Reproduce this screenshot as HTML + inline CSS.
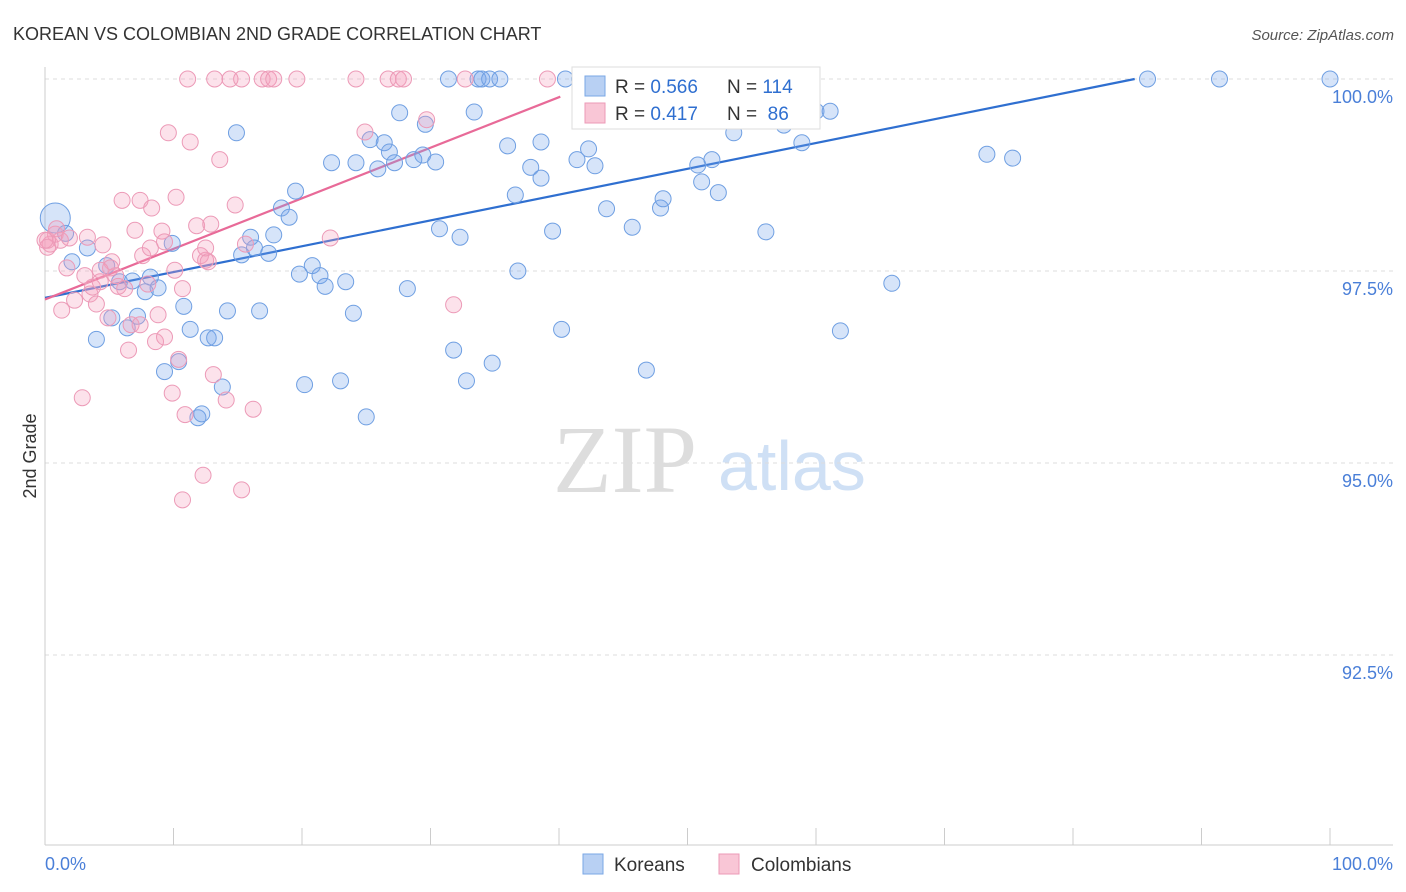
<!DOCTYPE html>
<html><head><meta charset="utf-8"><style>
body{margin:0;background:#fff;font-family:"Liberation Sans",sans-serif}
svg{display:block}
</style></head><body>
<svg id="chart" width="1406" height="892" viewBox="0 0 1406 892" xmlns="http://www.w3.org/2000/svg">
<text x="13" y="40" font-size="18" fill="#333">KOREAN VS COLOMBIAN 2ND GRADE CORRELATION CHART</text>
<text x="1394" y="40" font-size="15" fill="#555" text-anchor="end" font-style="italic">Source: ZipAtlas.com</text>
<text x="36" y="456" font-size="18" fill="#333" text-anchor="middle" transform="rotate(-90 36 456)">2nd Grade</text>
<g>
<text x="553" y="492" font-size="96" font-family="Liberation Serif,serif" fill="#ddd">ZIP</text>
<text x="718" y="490" font-size="70" fill="#cfe0f5">atlas</text>
</g>
<g id="grid"></g>
<g id="axes"></g>
<g id="lines"></g>
<g id="points"></g>
<g>
<rect x="572" y="67" width="248" height="62" fill="#fff" stroke="#ddd"/>
<rect x="585" y="76" width="20" height="20" fill="#b8d0f3" stroke="#7aa7e6"/>
<rect x="585" y="103" width="20" height="20" fill="#f9c6d6" stroke="#ec9ab7"/>
<text x="615" y="93" font-size="19" fill="#333">R = <tspan fill="#2f6fd0">0.566</tspan></text>
<text x="727" y="93" font-size="19" fill="#333">N = <tspan fill="#2f6fd0">114</tspan></text>
<text x="615" y="120" font-size="19" fill="#333">R = <tspan fill="#2f6fd0">0.417</tspan></text>
<text x="727" y="120" font-size="19" fill="#333">N = <tspan fill="#2f6fd0">&#160;86</tspan></text>
</g>
<g>
<rect x="583" y="854" width="20" height="20" fill="#b8d0f3" stroke="#7aa7e6"/>
<text x="614" y="871" font-size="19" fill="#333">Koreans</text>
<rect x="719" y="854" width="20" height="20" fill="#f9c6d6" stroke="#ec9ab7"/>
<text x="751" y="871" font-size="19" fill="#333">Colombians</text>
</g>
</svg>
<script>
const yTicks=[100,97.5,95,92.5];
const yTickLabels=["100.0%","97.5%","95.0%","92.5%"];
const xTicks=[0,10,20,30,40,50,60,70,80,90,100];
const koreanX=[0.8,1.6,3.3,2.1,4.8,4.0,5.2,6.4,7.2,5.8,6.8,8.2,8.8,7.8,9.9,9.3,10.4,10.8,11.3,12.7,13.2,13.8,11.9,12.2,14.2,14.9,15.3,16.0,16.3,17.4,16.7,17.8,18.4,19.0,19.5,19.8,20.2,20.8,21.4,21.8,22.3,23.0,23.4,24.0,24.2,25.0,25.3,25.9,26.4,26.8,27.2,27.6,28.2,28.7,29.4,29.6,30.4,30.7,31.4,31.8,32.3,32.8,33.4,33.7,34.0,34.6,34.8,35.4,36.0,36.6,36.8,37.8,38.6,38.6,39.5,40.2,40.5,41.4,42.3,42.8,43.7,45.7,46.8,46.9,47.9,48.1,50.8,51.1,51.9,52.4,53.6,56.1,57.5,58.9,60.0,61.1,61.9,65.9,73.3,75.3,85.8,91.4,100,53.7,58.4,41.6];
const koreanY=[98.19,97.99,97.80,97.62,97.57,96.61,96.89,96.76,96.91,97.36,97.37,97.42,97.28,97.23,97.86,96.19,96.32,97.04,96.74,96.63,96.63,95.99,95.59,95.64,96.98,99.30,97.71,97.94,97.80,97.73,96.98,97.97,98.32,98.20,98.54,97.46,96.02,97.57,97.44,97.30,98.91,96.07,97.36,96.95,98.91,95.60,99.21,98.83,99.17,99.05,98.91,99.56,97.27,98.95,99.01,99.41,98.92,98.05,100,96.47,97.94,96.07,99.57,100,100,100,96.30,100,99.13,98.49,97.50,98.85,98.71,99.18,98.02,96.74,100,98.95,99.09,98.87,98.31,98.07,96.21,100,98.32,98.44,98.88,98.66,98.95,98.52,99.30,98.01,99.40,99.17,99.58,99.58,96.72,97.34,99.02,98.97,100,100,100,100,100,100];
const colombianX=[0.4,0.8,1.2,1.9,1.3,1.7,2.3,2.9,3.3,3.5,3.7,4.0,4.3,4.5,4.9,5.2,5.5,6.0,6.2,6.5,6.7,7.0,7.4,7.6,8.0,8.2,8.3,8.6,8.8,9.1,9.3,9.6,9.9,10.1,10.2,10.4,10.7,10.7,10.9,11.1,11.3,11.8,12.1,12.3,12.5,12.7,12.9,13.1,13.2,13.6,14.1,14.4,14.8,15.3,15.3,15.6,16.2,16.9,17.4,17.8,19.6,22.2,24.2,24.9,26.7,27.5,27.9,29.7,31.8,32.7,39.1,0.2,0.9,5.1,5.7,3.1,7.4,9.3,12.5,0.2,0,4.3];
const colombianY=[97.85,97.98,97.90,97.93,96.99,97.54,97.12,95.85,97.94,97.20,97.29,97.07,97.36,97.84,96.89,97.62,97.44,98.42,97.27,96.47,96.80,98.03,98.42,97.70,97.33,97.80,98.32,96.58,96.93,98.02,96.64,99.30,95.91,97.51,98.46,96.35,97.27,94.52,95.63,100,99.18,98.09,97.70,94.84,97.64,97.62,98.11,96.15,100,98.95,95.82,100,98.36,94.65,100,97.85,95.70,100,100,100,100,97.93,100,99.31,100,100,100,99.47,97.06,100,100,97.90,98.05,97.54,97.30,97.44,96.80,97.88,97.80,97.81,97.90,97.51];
const koreanTrend=[0,97.15,84.8,100];
const colombianTrend=[0,97.13,40.1,99.77];

const NS="http://www.w3.org/2000/svg";
const xS=v=>45+v*12.85;
const yS=v=>79+(100-v)*76.8;
function mk(tag,attrs,parent){const e=document.createElementNS(NS,tag);for(const k in attrs)e.setAttribute(k,attrs[k]);document.getElementById(parent).appendChild(e);return e;}

yTicks.forEach((t,i)=>{
  const g=mk('line',{x1:45,x2:1393,y1:yS(t),y2:yS(t),stroke:'#ddd','stroke-dasharray':'4 4'},'grid');
  
  
  const l=mk('text',{x:1393,y:yS(t)+24,'font-size':18,fill:'#4a7fd8','text-anchor':'end'},'axes');
  l.textContent=yTickLabels[i];
  
  
});
const ax=mk('line',{x1:45,x2:1393,y1:845,y2:845,stroke:'#ccc'},'axes');


const ay=mk('line',{x1:45,x2:45,y1:67,y2:845,stroke:'#ccc'},'axes');


xTicks.forEach(t=>{
  const k=mk('line',{x1:xS(t),x2:xS(t),y1:828,y2:845,stroke:'#ccc'},'axes');
  
  
});
const xl0=mk('text',{x:45,y:870,'font-size':18,fill:'#4a7fd8'},'axes');xl0.textContent='0.0%';


const xl1=mk('text',{x:1393,y:870,'font-size':18,fill:'#4a7fd8','text-anchor':'end'},'axes');xl1.textContent='100.0%';



koreanX.forEach((x,i)=>{
  const c=mk('circle',{cx:xS(x),cy:yS(koreanY[i]),r:i===0?15:8,fill:'rgba(120,165,235,0.3)',stroke:'#6f9fe2','stroke-width':1},'points');
  
  
});
colombianX.forEach((x,i)=>{
  const c=mk('circle',{cx:xS(x),cy:yS(colombianY[i]),r:8,fill:'rgba(245,160,190,0.3)',stroke:'#ec9ab7','stroke-width':1},'points');
  
  
});
const bl=mk('line',{x1:xS(koreanTrend[0]),y1:yS(koreanTrend[1]),x2:xS(koreanTrend[2]),y2:yS(koreanTrend[3]),stroke:'#2f6fd0','stroke-width':2.2},'lines');


const pl=mk('line',{x1:xS(colombianTrend[0]),y1:yS(colombianTrend[1]),x2:xS(colombianTrend[2]),y2:yS(colombianTrend[3]),stroke:'#e86a98','stroke-width':2.2},'lines');


</script>
</body></html>
